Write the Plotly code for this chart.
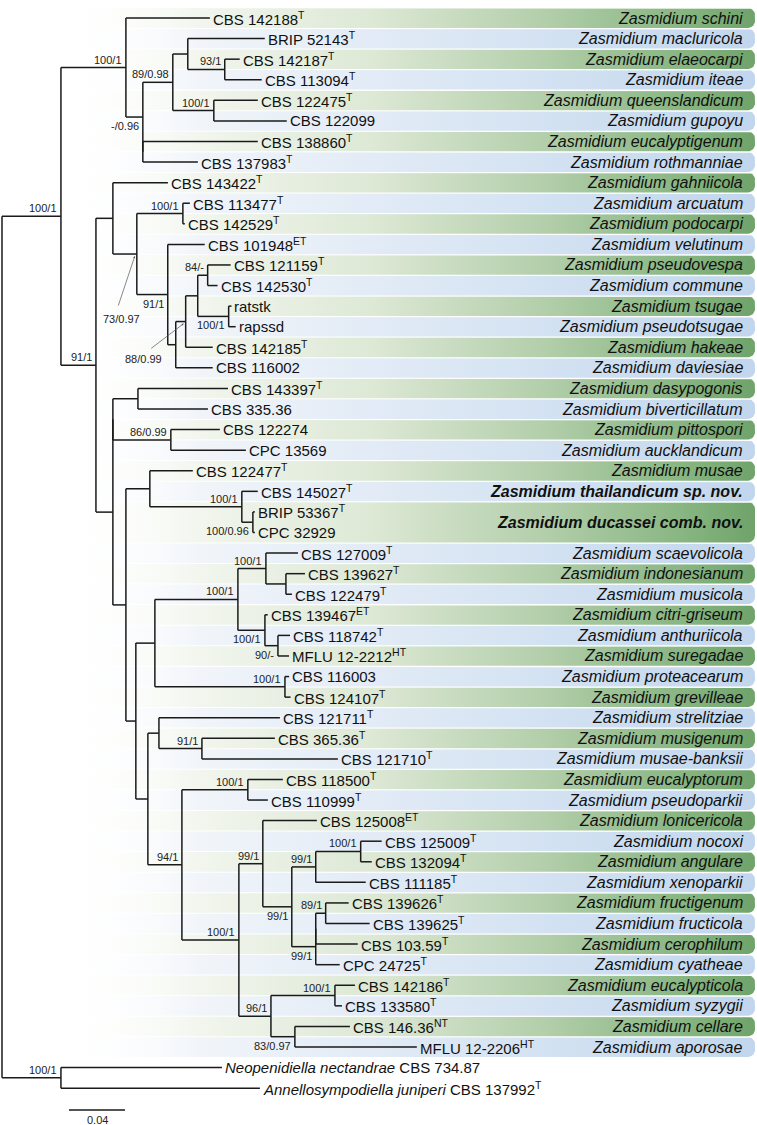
#phylogeny of Zasmidium, recreated with plotly
import numpy as np
import plotly.graph_objects as go

# ---- data ----
#tip labels top to bottom (one per row)
tip_labels = [
    "CBS 142188<sup>T</sup>", "BRIP 52143<sup>T</sup>", "CBS 142187<sup>T</sup>", "CBS 113094<sup>T</sup>",
    "CBS 122475<sup>T</sup>", "CBS 122099", "CBS 138860<sup>T</sup>", "CBS 137983<sup>T</sup>",
    "CBS 143422<sup>T</sup>", "CBS 113477<sup>T</sup>", "CBS 142529<sup>T</sup>", "CBS 101948<sup>ET</sup>",
    "CBS 121159<sup>T</sup>", "CBS 142530<sup>T</sup>", "ratstk", "rapssd",
    "CBS 142185<sup>T</sup>", "CBS 116002", "CBS 143397<sup>T</sup>", "CBS 335.36",
    "CBS 122274", "CPC 13569", "CBS 122477<sup>T</sup>", "CBS 145027<sup>T</sup>",
    "BRIP 53367<sup>T</sup>", "CPC 32929", "CBS 127009<sup>T</sup>", "CBS 139627<sup>T</sup>",
    "CBS 122479<sup>T</sup>", "CBS 139467<sup>ET</sup>", "CBS 118742<sup>T</sup>", "MFLU 12-2212<sup>HT</sup>",
    "CBS 116003", "CBS 124107<sup>T</sup>", "CBS 121711<sup>T</sup>", "CBS 365.36<sup>T</sup>",
    "CBS 121710<sup>T</sup>", "CBS 118500<sup>T</sup>", "CBS 110999<sup>T</sup>", "CBS 125008<sup>ET</sup>",
    "CBS 125009<sup>T</sup>", "CBS 132094<sup>T</sup>", "CBS 111185<sup>T</sup>", "CBS 139626<sup>T</sup>",
    "CBS 139625<sup>T</sup>", "CBS 103.59<sup>T</sup>", "CPC 24725<sup>T</sup>", "CBS 142186<sup>T</sup>",
    "CBS 133580<sup>T</sup>", "CBS 146.36<sup>NT</sup>", "MFLU 12-2206<sup>HT</sup>",
    "<i>Neopenidiella nectandrae</i> CBS 734.87",
    "<i>Annellosympodiella juniperi</i> CBS 137992<sup>T</sup>",
]

tip_parent = [
    "A", "A4", "A5", "A5", "A6", "A6", "A7", "A7",
    "C", "C2", "C2", "C3", "C7", "C7", "C8", "C8",
    "C5", "C4", "D1", "D1", "D2", "D2", "E1", "E2",
    "E3", "E3", "F3", "F4", "F4", "F5", "F6", "F6",
    "F7", "F7", "G1", "G2", "G2", "G4", "G4", "G6",
    "G9", "G9", "G8", "G12", "G12", "G11", "G10", "G14",
    "G14", "G15", "G15", "O", "O",
]

tip_length = [
    0.0600, 0.0550, 0.0107, 0.0264, 0.0314, 0.0521, 0.0821, 0.0393,
    0.0393, 0.0050, 0.0014, 0.0264, 0.0164, 0.0071, 0.0020, 0.0050,
    0.0193, 0.0264, 0.0643, 0.0500, 0.0350, 0.0536, 0.0307, 0.0114,
    0.0014, 0.0014, 0.0229, 0.0136, 0.0043, 0.0020, 0.0086, 0.0079,
    0.0030, 0.0040, 0.0864, 0.0521, 0.0971, 0.0250, 0.0143, 0.0386,
    0.0150, 0.0079, 0.0357, 0.0164, 0.0314, 0.0300, 0.0171, 0.0143,
    0.0050, 0.0393, 0.0871, 0.1150, 0.1421,
]

#internal nodes
node_names = ["R", "I", "O", "A", "A2", "A3", "A4", "A5", "A6", "A7",
              "B", "C", "C1", "C2", "C3", "C4", "C5", "C6", "C7", "C8",
              "D", "D0", "D1", "D2", "E", "E1", "E2", "E3",
              "F", "F1", "F2", "F3", "F4", "F5", "F6", "F7",
              "G", "G1", "G2", "G3", "G4", "G5", "G6", "G7", "G8", "G9",
              "G10", "G11", "G12", "G13", "G14", "G15"]
node_parent = [None, "R", "R", "I", "A", "A2", "A3", "A4", "A3", "A2",
               "I", "B", "C", "C1", "C1", "C3", "C4", "C5", "C6", "C6",
               "B", "D", "D0", "D0", "D", "E", "E1", "E2",
               "E", "F", "F1", "F2", "F3", "F2", "F5", "F1",
               "F", "G", "G1", "G", "G3", "G3", "G5", "G6", "G7", "G8",
               "G7", "G10", "G11", "G5", "G13", "G13"]
node_length = [0, 0.0421, 0.0421, 0.0464, 0.0121, 0.0214, 0.0107, 0.0264, 0.0293, 0,
               0.0250, 0.0121, 0.0171, 0.0329, 0.0221, 0.0057, 0.0071, 0.0086, 0.0071, 0.0221,
               0.0121, 0, 0.0179, 0.0414, 0.0093, 0.0171, 0.0657, 0.0079,
               0.0071, 0.0136, 0.0593, 0.0200, 0.0143, 0.0193, 0.0093, 0.0929,
               0.0086, 0.0079, 0.0307, 0.0243, 0.0471, 0.0407, 0.0171, 0.0207, 0.0171, 0.0321,
               0.0171, 0, 0.0071, 0.0229, 0.0457, 0.0171]

#bootstrap / posterior support
support = {
    "I": "100/1", "O": "100/1", "A": "100/1", "A2": "-/0.96", "A3": "89/0.98", "A5": "93/1",
    "A6": "100/1", "B": "91/1", "C1": "73/0.97", "C2": "100/1", "C3": "91/1", "C5": "88/0.99",
    "C7": "84/-", "C8": "100/1", "D2": "86/0.99", "E2": "100/1", "E3": "100/0.96",
    "F2": "100/1", "F3": "100/1", "F5": "100/1", "F6": "90/-", "F7": "100/1",
    "G2": "91/1", "G3": "94/1", "G4": "100/1", "G5": "100/1", "G6": "99/1", "G7": "99/1",
    "G8": "99/1", "G9": "100/1", "G10": "99/1", "G12": "89/1", "G13": "96/1", "G14": "100/1",
    "G15": "83/0.97",
}

#species names per row (ingroup only)
species = [
    "schini", "macluricola", "elaeocarpi", "iteae", "queenslandicum", "gupoyu",
    "eucalyptigenum", "rothmanniae", "gahniicola", "arcuatum", "podocarpi", "velutinum",
    "pseudovespa", "commune", "tsugae", "pseudotsugae", "hakeae", "daviesiae",
    "dasypogonis", "biverticillatum", "pittospori", "aucklandicum", "musae",
    "thailandicum sp. nov.", "ducassei comb. nov.", "ducassei comb. nov.",
    "scaevolicola", "indonesianum", "musicola", "citri-griseum", "anthuriicola", "suregadae",
    "proteacearum", "grevilleae", "strelitziae", "musigenum", "musae-banksii", "eucalyptorum",
    "pseudoparkii", "lonicericola", "nocoxi", "angulare", "xenoparkii", "fructigenum",
    "fructicola", "cerophilum", "cyatheae", "eucalypticola", "syzygii", "cellare", "aporosae",
]
#taxa introduced in this study (shown in bold)
new_taxa = ["thailandicum sp. nov.", "ducassei comb. nov."]

scale_len = 0.04

# ---- build the tree ----
parent = {}
blen = {}
for i, (p, l) in enumerate(zip(tip_parent, tip_length)):
    parent[i] = p
    blen[i] = l
for n, p, l in zip(node_names, node_parent, node_length):
    parent[n] = p
    blen[n] = l

children = {n: [] for n in node_names}
for k, p in parent.items():
    if p is not None:
        children[p].append(k)

xpos = {}
def get_x(k):
    if k not in xpos:
        xpos[k] = 0 if parent[k] is None else get_x(parent[k]) + blen[k]
    return xpos[k]

ypos = {}
def get_y(k):
    if k not in ypos:
        if isinstance(k, int):
            ypos[k] = k
        else:
            cy = [get_y(c) for c in children[k]]
            ypos[k] = (min(cy) + max(cy)) / 2
    return ypos[k]

for k in parent:
    get_x(k)
    get_y(k)

# pixel helpers (1400 px per unit, 20.58 px per row)
PX = 1 / 1400
ROWPX = 20.58
X0 = -2 * PX
X1 = X0 + 757 * PX
Y_TOP = -18 / ROWPX
Y_BOT = Y_TOP + 1125 / ROWPX

fig = go.Figure()

# ---- gradient bands ----
green_scale = [[0, "rgba(255,255,255,0)"], [0.2, "#f2f6ee"], [0.45, "#dde8d5"],
               [0.7, "#b2ceaa"], [0.9, "#87b581"], [1, "#6fa36a"]]
blue_scale = [[0, "rgba(255,255,255,0)"], [0.2, "#f1f5fa"], [0.45, "#e2ebf6"],
              [0.7, "#d3e2f2"], [1, "#c1d6ed"]]

band_x0 = 58 * PX
band_x1 = 753 * PX
rx = 7 * PX
ry = 7 / ROWPX
half = 0.48

#group consecutive rows with same species into one band
bands = []
for r, sp in enumerate(species):
    if bands and bands[-1][2] == sp:
        bands[-1][1] = r
    else:
        bands.append([r, r, sp])

ang = np.linspace(0, np.pi / 2, 8)
for b, (r0, r1, sp) in enumerate(bands):
    top = r0 - half
    bot = r1 + half
    xs = [band_x0, band_x1 - rx]
    ys = [top, top]
    xs += list(band_x1 - rx + rx * np.sin(ang))
    ys += list(top + ry - ry * np.cos(ang))
    xs += list(band_x1 - rx + rx * np.cos(ang))
    ys += list(bot - ry + ry * np.sin(ang))
    xs += [band_x0, band_x0]
    ys += [bot, top]
    fig.add_trace(go.Scatter(
        x=xs, y=ys, mode="lines", fill="toself", line=dict(width=0),
        fillgradient=dict(type="horizontal", colorscale=green_scale if b % 2 == 0 else blue_scale),
        hoverinfo="skip", showlegend=False))
    name = "<i>Zasmidium " + sp + "</i>"
    if sp in new_taxa:
        name = "<b>" + name + "</b>"
    fig.add_annotation(x=band_x1, y=(r0 + r1) / 2, text=name,
                       showarrow=False, xanchor="right", yanchor="middle", xshift=-10,
                       font=dict(size=16, color="#111111"))

# ---- tree lines ----
lx, ly = [], []
for k, p in parent.items():
    if p is None:
        continue
    lx += [xpos[p], xpos[k], None]
    ly += [ypos[k], ypos[k], None]
for n in node_names:
    cy = [ypos[c] for c in children[n]]
    lx += [xpos[n], xpos[n], None]
    ly += [min(cy), max(cy), None]

fig.add_trace(go.Scatter(x=lx, y=ly, mode="lines", line=dict(color="#1a1a1a", width=1.5),
                         hoverinfo="skip", showlegend=False))

# tip labels
for i, lab in enumerate(tip_labels):
    fig.add_annotation(x=xpos[i], y=ypos[i], text=lab, showarrow=False,
                       xanchor="left", yanchor="middle", xshift=1,
                       font=dict(size=15, color="#111111"))

# support values
below = {"A2", "C3", "C8", "E3", "F5", "F6", "G7", "G10", "G15"}
#crowded nodes get a pointer line: (text dx, text dy, tail dx, tail dy) in px
pointers = {"C1": (-15, -65, -17, 51), "C5": (-42, -37, -34, 26)}
sup_font = dict(size=11, color="#222222")
for n, s in support.items():
    if n in pointers:
        tdx, tdy, adx, ady = pointers[n]
        fig.add_annotation(x=xpos[n], y=ypos[n], text="", showarrow=True,
                           ax=adx, ay=ady, xshift=-2, yshift=-2,
                           arrowhead=2, arrowsize=0.6, arrowwidth=0.7, arrowcolor="#555555")
        fig.add_annotation(x=xpos[n], y=ypos[n], text=s, showarrow=False,
                           xanchor="center", yanchor="middle", xshift=tdx, yshift=tdy,
                           font=sup_font)
    elif n in below:
        fig.add_annotation(x=xpos[n], y=ypos[n], text=s, showarrow=False,
                           xanchor="right", yanchor="top", xshift=-2, yshift=-1,
                           font=sup_font)
    else:
        fig.add_annotation(x=xpos[n], y=ypos[n], text=s, showarrow=False,
                           xanchor="right", yanchor="bottom", xshift=-2, yshift=0,
                           font=sup_font)

# scale bar
sb_x = 67 * PX
sb_y = (1110 - 18) / ROWPX
fig.add_trace(go.Scatter(x=[sb_x, sb_x + scale_len], y=[sb_y, sb_y], mode="lines",
                         line=dict(color="#1a1a1a", width=1.4), hoverinfo="skip", showlegend=False))
fig.add_annotation(x=sb_x + scale_len / 2, y=sb_y, text=str(scale_len), showarrow=False,
                   xanchor="center", yanchor="top", yshift=-2, font=sup_font)

fig.update_layout(
    width=757, height=1125,
    margin=dict(l=0, r=0, t=0, b=0),
    paper_bgcolor="white", plot_bgcolor="white",
    font=dict(family="Liberation Sans, Arial, sans-serif"),
    xaxis=dict(range=[X0, X1], visible=False, fixedrange=True),
    yaxis=dict(range=[Y_BOT, Y_TOP], visible=False, fixedrange=True),
)

#drop the default page margin so the figure sits at the window corner
fig.write_html("out.html", config={"displayModeBar": False},
               post_script="document.body.style.margin='0';")
